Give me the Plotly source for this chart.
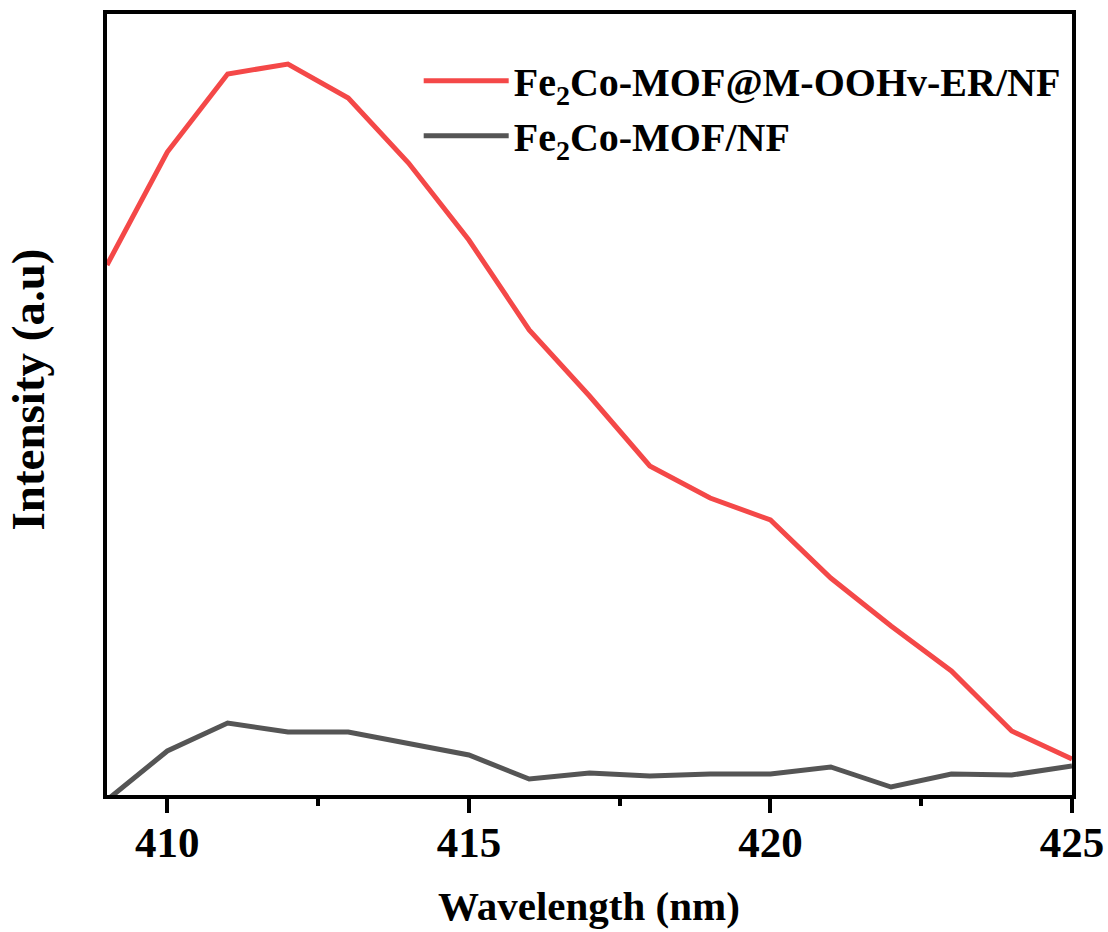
import plotly.graph_objects as go

wavelength = [409, 410, 411, 412, 413, 414, 415, 416, 417, 418, 419, 420, 421, 422, 423, 424, 425]
er_intensity = [530, 643, 721, 731, 697, 632, 555, 465, 399, 329, 297, 275, 217, 169, 124, 64, 36]
mof_intensity = [-5, 44, 72, 63, 63, 52, 40, 16, 22, 19, 21, 21, 28, 8, 21, 20, 29]
series_names = ["<b>Fe<sub>2</sub>Co-MOF@M-OOHv-ER/NF</b>", "<b>Fe<sub>2</sub>Co-MOF/NF</b>"]
x_ticks = [410, 415, 420, 425]
x_minor = [412.5, 417.5, 422.5]

FONT = "Liberation Serif"

fig = go.Figure()
fig.add_trace(go.Scatter(x=wavelength, y=er_intensity, mode="lines", name=series_names[0],
                         line=dict(color="#f44848", width=5)))
fig.add_trace(go.Scatter(x=wavelength, y=mof_intensity, mode="lines", name=series_names[1],
                         line=dict(color="#555555", width=5)))

fig.update_layout(
    width=1108, height=932,
    margin=dict(l=107, r=36, t=14, b=137, autoexpand=False),
    paper_bgcolor="white", plot_bgcolor="white",
    font=dict(family=FONT, color="black"),
    showlegend=True,
    legend=dict(x=0.323, y=0.956, xanchor="left", yanchor="top",
                bgcolor="rgba(0,0,0,0)", font=dict(size=40, family=FONT, color="black"),
                itemwidth=85, tracegroupgap=0),
    annotations=[
        dict(text="<b>Wavelength (nm)</b>", xref="paper", yref="paper", x=0.4995, y=-0.142,
             xanchor="center", yanchor="middle", showarrow=False,
             font=dict(size=41, family=FONT, color="black")),
        dict(text="<b>Intensity (a.u)</b>", xref="paper", yref="paper", x=-0.082, y=0.519,
             xanchor="center", yanchor="middle", showarrow=False, textangle=-90,
             font=dict(size=47, family=FONT, color="black")),
    ],
)
fig.update_xaxes(
    range=[409, 425], tickvals=x_ticks, ticktext=[f"<b>{t}</b>" for t in x_ticks],
    ticks="outside", ticklen=14, tickwidth=4, tickcolor="black",
    tickfont=dict(size=43, family=FONT, color="black"), ticklabelstandoff=-8,
    minor=dict(tickvals=x_minor, ticks="outside", ticklen=7, tickwidth=4, tickcolor="black"),
    showline=True, linewidth=4, linecolor="black", mirror=True,
    showgrid=False, zeroline=False,
)
fig.update_yaxes(
    range=[0, 781], showticklabels=False, ticks="",
    showline=True, linewidth=4, linecolor="black", mirror=True,
    showgrid=False, zeroline=False,
)

fig.write_html("out.html")
